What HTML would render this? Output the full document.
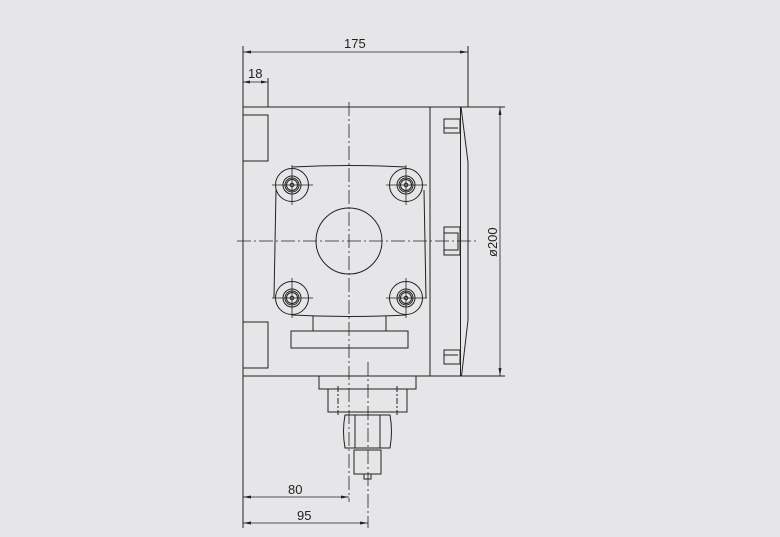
<!DOCTYPE html>
<html><head><style>
html,body{margin:0;padding:0;background:#e6e6e8;}
svg{display:block}
text{font-family:"Liberation Sans",sans-serif;font-size:13px;fill:#222}
</style></head><body>
<svg width="780" height="537" viewBox="0 0 780 537" xmlns="http://www.w3.org/2000/svg">
<rect width="780" height="537" fill="#e6e6e8"/>
<g stroke="#222" stroke-width="1" fill="none">
<!-- extension lines -->
<line x1="243" y1="46" x2="243" y2="528"/>
<line x1="468" y1="46" x2="468" y2="107"/>
<line x1="268" y1="78" x2="268" y2="107"/>
<!-- body -->
<line x1="243" y1="107" x2="505" y2="107"/>
<line x1="243" y1="376" x2="505" y2="376"/>
<line x1="430" y1="107" x2="430" y2="376"/>
<line x1="460.5" y1="107" x2="460.5" y2="376"/>
<polyline points="461,107 468,162 468,320 461.5,376"/>
<!-- tabs left -->
<rect x="243" y="115" width="25" height="46"/>
<rect x="243" y="322" width="25" height="46"/>
<!-- clips right -->
<rect x="444" y="119" width="16" height="14"/><line x1="444" y1="128" x2="458" y2="128"/>
<rect x="444" y="227" width="16" height="28"/><rect x="444" y="233" width="14" height="17"/>
<rect x="444" y="350" width="16" height="14"/><line x1="444" y1="355" x2="458" y2="355"/>
<!-- flange -->
<path d="M292 167 Q349 164 406 167"/>
<path d="M276 190 L274 298"/>
<path d="M424 190 L426 298"/>
<path d="M292 315 Q349 318 406 315"/>
<g>
<circle cx="292" cy="185" r="16.5"/><circle cx="292" cy="185" r="9"/><circle cx="292" cy="185" r="7"/><circle cx="292" cy="185" r="5.5"/><circle cx="292" cy="185" r="1.8"/>
<circle cx="406" cy="185" r="16.5"/><circle cx="406" cy="185" r="9"/><circle cx="406" cy="185" r="7"/><circle cx="406" cy="185" r="5.5"/><circle cx="406" cy="185" r="1.8"/>
<circle cx="292" cy="298" r="16.5"/><circle cx="292" cy="298" r="9"/><circle cx="292" cy="298" r="7"/><circle cx="292" cy="298" r="5.5"/><circle cx="292" cy="298" r="1.8"/>
<circle cx="406" cy="298" r="16.5"/><circle cx="406" cy="298" r="9"/><circle cx="406" cy="298" r="7"/><circle cx="406" cy="298" r="5.5"/><circle cx="406" cy="298" r="1.8"/>
</g>
<g stroke-width="0.8">
<line x1="272" y1="185" x2="313" y2="185"/><line x1="292" y1="165" x2="292" y2="205"/>
<line x1="386" y1="185" x2="427" y2="185"/><line x1="406" y1="165" x2="406" y2="205"/>
<line x1="272" y1="298" x2="313" y2="298"/><line x1="292" y1="278" x2="292" y2="318"/>
<line x1="386" y1="298" x2="427" y2="298"/><line x1="406" y1="278" x2="406" y2="318"/>
</g>
<circle cx="349" cy="241" r="33"/>
<polyline points="313,316 313,331 386,331 386,316"/>
<rect x="291" y="331" width="117" height="17"/>
<!-- bottom fittings -->
<polyline points="319,376 319,389 416,389 416,376"/>
<rect x="328" y="389" width="79" height="23"/>
<line x1="338" y1="386" x2="338" y2="415" stroke-dasharray="6,2,2,2"/>
<line x1="397" y1="386" x2="397" y2="415" stroke-dasharray="6,2,2,2"/>
<path d="M345 415 L390 415 Q393 431 390 448 L345 448 Q342 431 345 415 Z"/>
<line x1="355" y1="415" x2="355" y2="448"/><line x1="380" y1="415" x2="380" y2="448"/>
<rect x="354" y="450" width="27" height="24"/>
<rect x="364" y="474" width="7" height="5"/>
<!-- centerlines -->
<g stroke-width="0.8" stroke-dasharray="14,3,2,3">
<line x1="349" y1="102" x2="349" y2="502"/>
<line x1="237" y1="241" x2="476" y2="241"/>
<line x1="368" y1="362" x2="368" y2="528"/>
</g>
<!-- dimension lines -->
<g stroke-width="0.8">
<line x1="243" y1="52" x2="468" y2="52"/>
<line x1="243" y1="82" x2="268" y2="82"/>
<line x1="500" y1="107" x2="500" y2="376"/>
<line x1="243" y1="497" x2="349" y2="497"/>
<line x1="243" y1="523" x2="368" y2="523"/>
</g>
</g>
<g fill="#222">
<path d="M243 52 l8 -1.5 v3z"/><path d="M468 52 l-8 -1.5 v3z"/>
<path d="M243 82 l7 -1.5 v3z"/><path d="M268 82 l-7 -1.5 v3z"/>
<path d="M500 107 l-1.5 8 h3z"/><path d="M500 376 l-1.5 -8 h3z"/>
<path d="M243 497 l8 -1.5 v3z"/><path d="M349 497 l-8 -1.5 v3z"/>
<path d="M243 523 l8 -1.5 v3z"/><path d="M368 523 l-8 -1.5 v3z"/>
</g>
<text x="344" y="48">175</text>
<text x="248" y="78">18</text>
<text x="288" y="494">80</text>
<text x="297" y="520">95</text>
<text transform="translate(497,257) rotate(-90)">ø200</text>
</svg>
</body></html>
